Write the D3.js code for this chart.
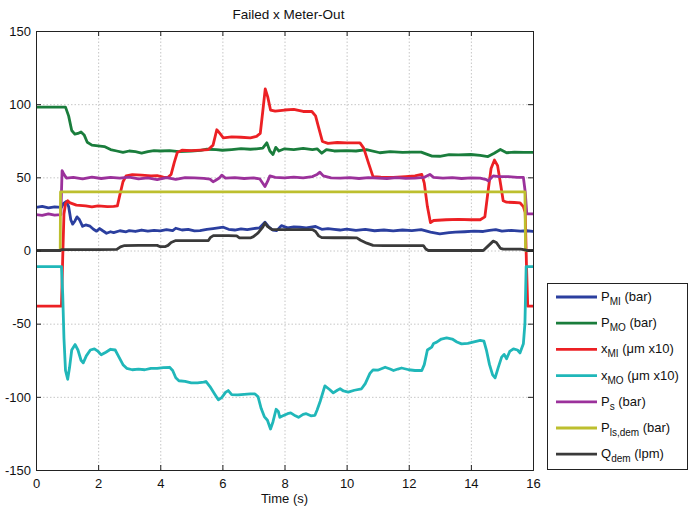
<!DOCTYPE html>
<html>
<head>
<meta charset="utf-8">
<script src="https://cdn.jsdelivr.net/npm/d3@7"></script>
<style>
html,body{margin:0;padding:0;background:#fff;}
svg{display:block;font-family:"Liberation Sans",Arial,sans-serif;}
</style>
</head>
<body>
<svg id="chart" width="688" height="508"></svg>
<script>
// ---------- data ----------
const title = "Failed x Meter-Out";
const xLabel = "Time (s)";
const xTicks = [0,2,4,6,8,10,12,14,16];
const yTicks = [-150,-100,-50,0,50,100,150];

const pMI = [[0,29.5],[0.2,30.2],[0.4,29.2],[0.6,29.8],[0.82,29.5],[0.88,32],[0.98,33.5],[1.05,30],[1.12,21],[1.18,18],[1.25,20],[1.32,23],[1.4,21],[1.5,16.5],[1.6,17.5],[1.74,16.6],[1.85,14.5],[1.95,13.2],[2.05,15],[2.15,13.5],[2.27,11.8],[2.4,12.8],[2.5,12.2],[2.7,13.5],[2.9,12.8],[3.0,13.6],[3.2,13],[3.4,14],[3.6,13.2],[3.8,13.8],[4.0,13.4],[4.2,14.2],[4.4,13.6],[4.5,15.2],[4.7,14],[4.9,14.4],[5.1,13.4],[5.28,13.6],[5.5,14.5],[5.7,15],[6.03,15.9],[6.2,14.5],[6.4,14],[6.6,14.8],[6.8,14.2],[7.0,15],[7.2,15.5],[7.37,19.4],[7.5,16],[7.62,14],[7.75,13.6],[7.9,17],[8.1,15.5],[8.3,16.2],[8.5,15.9],[8.7,15.5],[9.0,16.4],[9.2,14.5],[9.4,15],[9.6,14.5],[9.79,14],[10,14.6],[10.3,13.7],[10.6,14.4],[10.9,13.5],[11.2,14],[11.5,13.4],[11.8,14],[12.1,13.6],[12.4,14.2],[12.7,12.5],[13.0,11.4],[13.3,12.2],[13.5,12.5],[13.8,12.8],[14.1,13.2],[14.4,13],[14.6,13.7],[14.8,14.2],[15.0,13.2],[15.3,13.8],[15.6,13.2],[15.8,13.5],[16,13]];

const pMO = [[0,98],[0.5,98],[0.95,98],[1.05,92],[1.15,82],[1.25,79.5],[1.35,80],[1.45,81],[1.55,79],[1.65,74],[1.8,72],[2.0,71.5],[2.2,71],[2.4,69],[2.6,68],[2.8,67],[3.0,68],[3.2,67.5],[3.4,66.5],[3.6,67.5],[3.8,68.2],[4.0,68],[4.3,68.3],[4.6,67.6],[5.0,68],[5.3,68.4],[5.5,69.2],[5.8,69],[6.0,68.5],[6.3,69],[6.6,69.6],[6.9,69.2],[7.1,69.5],[7.3,70],[7.43,73.6],[7.53,68],[7.63,65.6],[7.72,70.5],[7.82,68],[8.0,69.5],[8.3,69],[8.6,69.8],[8.9,69],[9.05,69.5],[9.2,66.5],[9.35,69],[9.6,68],[10.0,68.2],[10.3,68],[10.64,69],[11.07,66.8],[11.4,67.5],[11.8,67],[12.1,67.2],[12.4,67.2],[12.55,66],[12.75,64.5],[13.0,64.4],[13.3,65.5],[13.6,65.3],[14.0,65.6],[14.3,65],[14.55,64.2],[14.75,66.5],[14.95,69],[15.15,66.8],[15.4,67.2],[15.7,67],[16,67]];

const xMI = [[0,-38],[0.82,-38],[0.86,-5],[0.9,25],[0.95,32],[1.02,34],[1.1,32.5],[1.3,31],[1.6,30.5],[1.8,29.8],[2.0,30.5],[2.3,30],[2.5,30.2],[2.62,30.5],[2.7,38],[2.8,47],[2.9,51],[3.1,51.8],[3.4,51.5],[3.7,51],[3.9,51.2],[4.1,50.2],[4.25,50],[4.35,52],[4.45,60],[4.55,67],[4.7,68.5],[5.0,68.2],[5.3,68.6],[5.55,69],[5.7,72],[5.82,82.5],[5.92,80],[6.03,77],[6.3,77.6],[6.6,77.4],[6.9,77],[7.1,78],[7.22,80],[7.3,95],[7.38,110.5],[7.46,105],[7.55,96],[7.7,95.2],[8.0,96],[8.3,96.5],[8.6,95],[8.88,95],[9.0,92],[9.1,84],[9.22,74.5],[9.4,73.2],[9.7,73.8],[10.0,73.5],[10.43,73.5],[10.55,70],[10.7,60],[10.85,50.5],[11.1,50.2],[11.5,50],[11.9,50.5],[12.2,51],[12.42,52],[12.5,46],[12.6,30],[12.7,19],[12.8,20.5],[13.2,21],[13.6,21.3],[14.0,21],[14.3,21],[14.45,23],[14.55,40],[14.65,56],[14.76,61.8],[14.86,58],[14.96,45],[15.04,34],[15.15,33],[15.4,32.8],[15.58,32.6],[15.69,30],[15.75,26],[15.79,-10],[15.83,-38],[16,-38]];

const xMO = [[0,-11],[0.82,-11],[0.86,-30],[0.9,-60],[0.95,-82],[1.02,-88],[1.08,-80],[1.15,-68],[1.26,-64.3],[1.35,-68],[1.45,-75],[1.52,-76.8],[1.62,-72],[1.75,-68],[1.88,-67.2],[2.0,-69],[2.1,-71.3],[2.25,-69.5],[2.4,-67.5],[2.55,-68],[2.65,-72],[2.8,-78],[2.92,-80.5],[3.1,-81.5],[3.3,-81],[3.5,-81.5],[3.7,-80.5],[3.9,-80.5],[4.1,-80],[4.3,-79.8],[4.4,-82],[4.5,-87],[4.6,-89],[4.8,-89.5],[5.0,-90.5],[5.2,-90.5],[5.4,-90],[5.47,-89.5],[5.6,-93],[5.75,-98],[5.87,-102],[5.98,-100.5],[6.1,-97],[6.19,-95.7],[6.3,-98.5],[6.5,-98.7],[6.7,-98.3],[6.9,-98],[7.05,-98],[7.15,-100],[7.25,-108],[7.35,-113.5],[7.45,-116],[7.55,-122],[7.63,-117],[7.73,-108.5],[7.8,-110],[7.85,-114],[7.95,-113],[8.1,-111.5],[8.2,-111],[8.35,-113],[8.45,-114],[8.6,-112],[8.7,-111.5],[8.85,-113],[8.98,-112.6],[9.05,-109],[9.15,-103],[9.3,-92.5],[9.45,-95],[9.57,-97.3],[9.7,-95.5],[9.79,-94.5],[9.9,-96],[10.05,-96.8],[10.25,-95.5],[10.48,-94.5],[10.6,-91],[10.75,-84],[10.85,-81.6],[11.0,-81.8],[11.24,-79.8],[11.4,-81],[11.51,-82],[11.65,-81],[11.77,-80.3],[12.0,-81.5],[12.2,-82],[12.42,-82],[12.5,-78],[12.6,-68],[12.74,-66],[12.8,-63.5],[12.9,-62.6],[13.05,-60.5],[13.22,-59.7],[13.4,-60.5],[13.55,-62.5],[13.7,-63.8],[13.9,-63.5],[14.1,-62.5],[14.3,-61.4],[14.42,-62],[14.5,-68],[14.6,-78],[14.7,-85],[14.78,-87],[14.88,-80],[14.99,-72.9],[15.07,-71],[15.15,-74],[15.25,-69],[15.37,-67.2],[15.5,-68],[15.58,-70],[15.69,-63.8],[15.74,-50],[15.78,-11],[16,-11]];

const pS = [[0,24.5],[0.2,24],[0.4,25],[0.6,24.2],[0.8,24.5],[0.82,40],[0.84,54.5],[0.9,52],[0.98,49.5],[1.2,50],[1.5,49],[1.8,50.2],[2.1,49.2],[2.4,50],[2.7,49.4],[3.0,50.2],[3.3,49],[3.6,49.6],[3.9,48.5],[4.2,49.8],[4.5,48.6],[4.8,49.8],[5.1,49.6],[5.4,49.3],[5.6,48.8],[5.7,47],[5.76,47.7],[5.9,49.5],[5.98,51.5],[6.1,49.5],[6.4,49.8],[6.7,49.2],[7.0,49.6],[7.2,49],[7.3,46],[7.37,43.7],[7.45,47],[7.53,51],[7.7,50],[8.0,49.6],[8.3,50.2],[8.6,49.6],[8.9,50.5],[9.05,52],[9.14,53.5],[9.25,51],[9.5,49.6],[9.8,49.5],[10.1,49.8],[10.4,49.2],[10.7,49.8],[11.0,49.5],[11.3,49.2],[11.6,49.8],[11.9,49.3],[12.2,49.5],[12.5,50],[12.68,52],[12.8,50],[13.1,49.5],[13.4,49.8],[13.7,49.2],[14.0,49.6],[14.3,49.5],[14.5,48.5],[14.56,47.5],[14.65,49.5],[14.72,51],[14.9,50.5],[15.2,50.5],[15.5,50],[15.69,50],[15.75,40],[15.8,25],[16,25]];

const pLsDem = [[0,0],[0.78,0],[0.79,40],[15.74,40],[15.76,0],[16,0]];

const qDem = [[0,0],[0.78,0],[0.82,0.6],[1.5,0.6],[2.0,0.6],[2.6,0.8],[2.72,2.5],[2.85,3.4],[3.3,3.5],[3.9,3.5],[4.0,2.6],[4.15,2.6],[4.25,3.5],[4.35,5.5],[4.5,6.8],[5.0,6.8],[5.55,6.8],[5.62,9],[5.71,10.2],[6.2,10.2],[6.46,10],[6.55,8.6],[6.9,8.6],[7.0,9.5],[7.15,12],[7.3,16],[7.37,18.8],[7.45,16.5],[7.6,14.2],[7.9,14.3],[8.3,14.3],[8.9,14.3],[9.0,13],[9.1,10],[9.2,8.8],[9.6,8.7],[10.0,8.8],[10.33,8.6],[10.45,7],[10.65,5],[10.85,3.5],[11.2,3.4],[12.0,3.4],[12.47,3.4],[12.55,1],[12.63,0],[14.4,0],[14.55,3],[14.72,6.4],[14.82,5.5],[14.95,1.5],[15.05,1],[15.6,1],[15.75,0.5],[15.8,0],[16,0]];

const seriesNames = ["P_MI","P_MO","x_MI","x_MO","P_s","P_ls,dem","Q_dem"];
const seriesData = [pMI, pMO, xMI, xMO, pS, pLsDem, qDem];
const seriesColors = ["#2b3f9f","#1a7d3c","#ec2024","#20b7b9","#9b319b","#bdbf2e","#3a3a3a"];
// legend label parts: [main, subscript, suffix]
const legendLabels = [["P","MI"," (bar)"],["P","MO"," (bar)"],["x","MI"," (\u03bcm x10)"],["x","MO"," (\u03bcm x10)"],["P","s"," (bar)"],["P","ls,dem"," (bar)"],["Q","dem"," (lpm)"]];

// ---------- layout ----------
const svg = d3.select("#chart");
const L = 36, R = 533, T = 31, B = 470;
const x = d3.scaleLinear().domain([0,16]).range([L,R]);
const y = d3.scaleLinear().domain([-150,150]).range([B,T]);
const fmt = d => String(d);

svg.append("rect").attr("width",688).attr("height",508).attr("fill","#fff");

// grid
const grid = svg.append("g");
grid.selectAll("line.gx").data(xTicks.filter(d=>d>0&&d<16)).enter().append("line")
  .attr("x1",d=>x(d)+0.5).attr("x2",d=>x(d)+0.5).attr("y1",T).attr("y2",B)
  .attr("stroke","#b8b8b8").attr("stroke-width",0.8).attr("stroke-dasharray","1.5,2");
grid.selectAll("line.gy").data(yTicks.filter(d=>d>-150&&d<150)).enter().append("line")
  .attr("y1",d=>y(d)+0.5).attr("y2",d=>y(d)+0.5).attr("x1",L).attr("x2",R)
  .attr("stroke","#b8b8b8").attr("stroke-width",0.8).attr("stroke-dasharray","1.5,2");

// clip
svg.append("clipPath").attr("id","clip").append("rect")
  .attr("x",L).attr("y",T).attr("width",R-L).attr("height",B-T);

const line = d3.line().x(d=>x(d[0])).y(d=>y(d[1]));
const lines = svg.append("g").attr("clip-path","url(#clip)");
seriesData.forEach((s,i)=>{
  lines.append("path").datum(s).attr("d",line)
    .attr("fill","none").attr("stroke",seriesColors[i]).attr("stroke-width",2.8)
    .attr("stroke-linejoin","round").attr("stroke-linecap","round");
});

// axes (inward ticks, MATLAB style)
const tickLen = 5;
const axB = svg.append("g").attr("transform",`translate(0,${B})`)
  .call(d3.axisBottom(x).tickValues(xTicks).tickSize(-tickLen).tickPadding(9).tickFormat(fmt));
const axT = svg.append("g").attr("transform",`translate(0,${T})`)
  .call(d3.axisTop(x).tickValues(xTicks).tickSize(-tickLen).tickFormat(""));
const axL = svg.append("g").attr("transform",`translate(${L},0)`)
  .call(d3.axisLeft(y).tickValues(yTicks).tickSize(-tickLen).tickPadding(5).tickFormat(fmt));
const axR = svg.append("g").attr("transform",`translate(${R},0)`)
  .call(d3.axisRight(y).tickValues(yTicks).tickSize(-tickLen).tickFormat(""));
[axB,axT,axL,axR].forEach(a=>{
  a.attr("font-family","'Liberation Sans', Arial, sans-serif");
  a.select(".domain").attr("stroke","#222").attr("stroke-width",1);
  a.selectAll(".tick line").attr("stroke","#222");
  a.selectAll("text").attr("font-size",13).attr("fill","#111");
});
axB.selectAll("text").attr("dy","0.71em");

// title and axis label
svg.append("text").attr("x",(L+R)/2+4).attr("y",19).attr("text-anchor","middle")
  .attr("font-size",13.5).attr("fill","#111").text(title);
svg.append("text").attr("x",(L+R)/2).attr("y",503).attr("text-anchor","middle")
  .attr("font-size",13).attr("fill","#111").text(xLabel);

// legend
const lg = svg.append("g");
lg.append("rect").attr("x",547.5).attr("y",283.5).attr("width",140).attr("height",186)
  .attr("fill","#fff").attr("stroke","#222").attr("stroke-width",1);
const rowY = i => 297 + i*26.2;
seriesColors.forEach((c,i)=>{
  lg.append("line").attr("x1",556).attr("x2",597).attr("y1",rowY(i)).attr("y2",rowY(i))
    .attr("stroke",c).attr("stroke-width",2.8);
  const t = lg.append("text").attr("x",601).attr("y",rowY(i)+4).attr("font-size",13).attr("fill","#111");
  const lab = legendLabels[i];
  t.append("tspan").text(lab[0]);
  t.append("tspan").attr("font-size",10).attr("dy",4).text(lab[1]);
  t.append("tspan").attr("dy",-4).text(lab[2]);
});
</script>
</body>
</html>
